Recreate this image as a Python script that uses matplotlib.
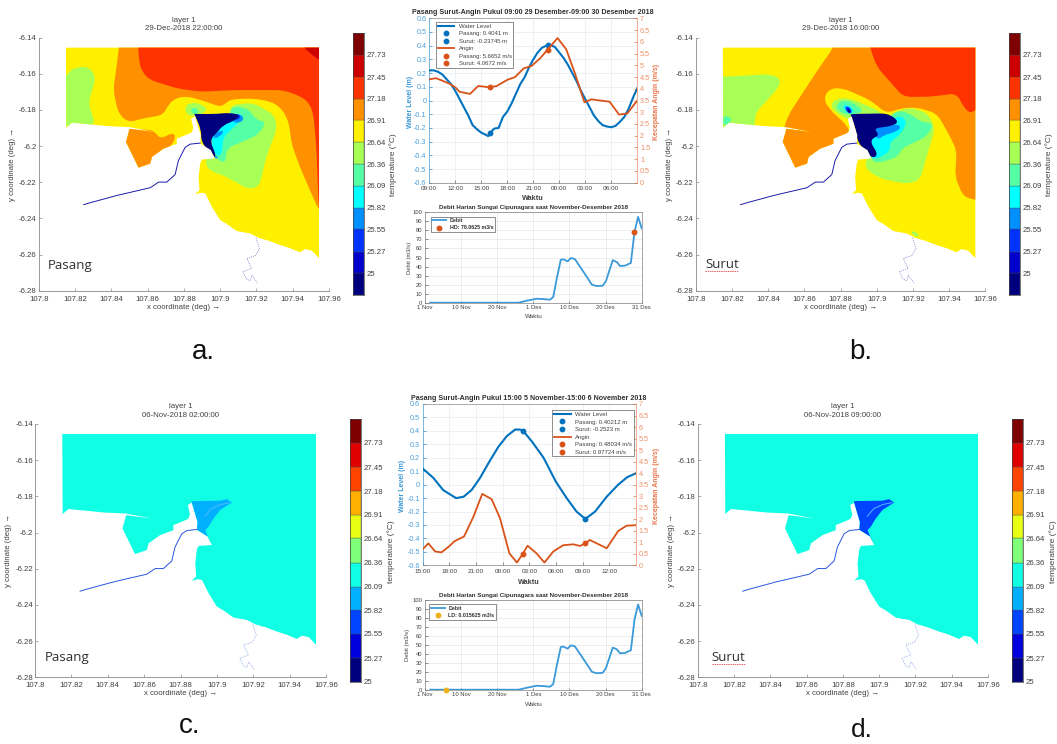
import matplotlib
matplotlib.use("Agg")
import matplotlib.pyplot as plt
from matplotlib.patches import Polygon, PathPatch
from matplotlib.path import Path
from matplotlib.lines import Line2D
import math

W, H = 1057, 744
plt.rcParams['font.family'] = ['Liberation Sans', 'DejaVu Sans']

# ---------- temperature scale ----------
temp_ticks = [25, 25.27, 25.55, 25.82, 26.09, 26.36, 26.64, 26.91, 27.18, 27.45, 27.73]
edges_12 = [24.73] + temp_ticks + [28.0]
edges_11 = temp_ticks + [28.0]
jet_12 = ['#00007f', '#0000cc', '#0033ff', '#0090ff', '#00ffff', '#55ffa5',
          '#a8ff55', '#fff000', '#ff9000', '#ff3300', '#cc0000', '#7f0000']
jet_11 = ['#00007f', '#0000dd', '#0044ff', '#00b0ff', '#10ffe4', '#80ff78',
          '#e8ff14', '#ffb000', '#ff4400', '#e00000', '#7f0000']

# ---------- geography ----------
sea = [(107.815, -6.1455), (107.9545, -6.1455), (107.9545, -6.262), (107.9505, -6.2578),
       (107.9468, -6.257), (107.944, -6.2588), (107.9386, -6.2565), (107.933, -6.2547),
       (107.9266, -6.2523), (107.9211, -6.2507), (107.9165, -6.2483), (107.9092, -6.247),
       (107.9037, -6.2431), (107.9, -6.2409), (107.8954, -6.2335), (107.8918, -6.2262),
       (107.8895, -6.2258), (107.8862, -6.2266), (107.8886, -6.2243), (107.8881, -6.217),
       (107.889, -6.2096), (107.8899, -6.2074), (107.8972, -6.2069), (107.8949, -6.2022),
       (107.889, -6.1985), (107.8893, -6.194), (107.8875, -6.188), (107.8862, -6.1835),
       (107.884, -6.1848), (107.8852, -6.19), (107.8844, -6.1922), (107.8831, -6.193),
       (107.8761, -6.1959), (107.8761, -6.1987), (107.8688, -6.2014), (107.8624, -6.206),
       (107.8615, -6.2097), (107.855, -6.2119), (107.8481, -6.1977), (107.8501, -6.1904),
       (107.8642, -6.1922), (107.8501, -6.1895), (107.8376, -6.1889), (107.8248, -6.1876),
       (107.8183, -6.187), (107.8152, -6.1898)]
river_west = [(107.8248, -6.2324), (107.8284, -6.2313), (107.8431, -6.2273), (107.8615, -6.223),
              (107.8661, -6.2199), (107.8706, -6.2199), (107.8752, -6.2157), (107.877, -6.208),
              (107.8807, -6.2007), (107.8835, -6.1989), (107.889, -6.1983)]
river_south = [(107.9198, -6.2508), (107.9217, -6.2567), (107.9195, -6.2605), (107.9147, -6.2622),
               (107.9174, -6.2677), (107.9125, -6.2695), (107.9145, -6.2735), (107.9165, -6.2745),
               (107.9175, -6.2715), (107.9205, -6.2755)]
bay = [(107.8862, -6.1826), (107.9018, -6.1824), (107.9055, -6.1815), (107.9083, -6.1834),
       (107.9018, -6.1876), (107.8982, -6.1922), (107.8954, -6.1968), (107.8936, -6.1987),
       (107.8972, -6.2069), (107.8949, -6.2022), (107.889, -6.1985), (107.8893, -6.194),
       (107.8862, -6.1839)]
channel = [(107.8935, -6.191), (107.897, -6.1868), (107.902, -6.1845), (107.907, -6.1835)]

# panel a contours (colour index in jet_12, outline)
a_bands = [
    (8, [(107.8442, -6.1431), (107.8442, -6.1455), (107.8429, -6.156), (107.8411, -6.169), (107.8439, -6.1819),
         (107.8494, -6.187), (107.8576, -6.1846), (107.8686, -6.1828), (107.8712, -6.1775), (107.875, -6.1736),
         (107.8815, -6.1723), (107.8925, -6.1754), (107.9007, -6.1786), (107.9053, -6.1741), (107.9182, -6.1736),
         (107.9275, -6.1752), (107.9328, -6.1782), (107.9365, -6.1835), (107.9383, -6.1893), (107.9393, -6.1985),
         (107.9439, -6.2114), (107.9543, -6.2354), (107.957, -6.2354), (107.957, -6.1431)]),
    (8, [(107.8466, -6.1902), (107.8635, -6.1911), (107.8668, -6.1962), (107.8745, -6.1921), (107.8754, -6.1967),
         (107.8583, -6.2151), (107.8466, -6.2151)]),
    (9, [(107.8549, -6.1431), (107.8549, -6.1455), (107.8554, -6.1542), (107.8575, -6.1595), (107.8613, -6.1634),
         (107.876, -6.168), (107.8888, -6.1699), (107.9072, -6.169), (107.9347, -6.169), (107.9445, -6.1725),
         (107.9493, -6.1763), (107.9515, -6.183), (107.953, -6.2003), (107.9543, -6.2335), (107.957, -6.2335),
         (107.957, -6.1431)]),
    (10, [(107.946, -6.1431), (107.946, -6.1455), (107.9543, -6.1524), (107.957, -6.1524), (107.957, -6.1431)]),
    (6, [(107.8136, -6.1616), (107.815, -6.1616), (107.8182, -6.157), (107.8273, -6.1557), (107.8316, -6.1616),
         (107.8273, -6.1763), (107.8314, -6.1883), (107.8136, -6.1893)]),
    (6, [(107.8806, -6.1782), (107.8834, -6.176), (107.889, -6.1763), (107.8936, -6.18), (107.8871, -6.1837),
         (107.8815, -6.1828)]),
    (5, [(107.8833, -6.18), (107.886, -6.1782), (107.8888, -6.1809), (107.8857, -6.1828)]),
    (6, [(107.9053, -6.1773), (107.9182, -6.176), (107.93, -6.1828), (107.9314, -6.1902), (107.9255, -6.2058),
         (107.9215, -6.2225), (107.9154, -6.2239), (107.9035, -6.2169), (107.8934, -6.2132), (107.8916, -6.2077),
         (107.8961, -6.2022), (107.9053, -6.1874)]),
    (5, [(107.9062, -6.1778), (107.9154, -6.1791), (107.92, -6.1856), (107.9255, -6.1865), (107.9209, -6.1939),
         (107.9035, -6.2012), (107.9031, -6.2095), (107.898, -6.2073), (107.8961, -6.1985), (107.9053, -6.1856)]),
    (4, [(107.9071, -6.1819), (107.9135, -6.1828), (107.9108, -6.1865), (107.9016, -6.1948), (107.9012, -6.204),
         (107.898, -6.2062), (107.8947, -6.1985), (107.8961, -6.1921)]),
    (3, [(107.9071, -6.1828), (107.9126, -6.1828), (107.9126, -6.1865), (107.9071, -6.1874)]),
    (3, [(107.898, -6.1921), (107.9025, -6.1912), (107.8998, -6.1948), (107.896, -6.196)]),
    (3, [(107.8961, -6.2052), (107.899, -6.2058), (107.898, -6.2073)]),
    (2, [(107.9071, -6.182), (107.9112, -6.1825), (107.911, -6.1848), (107.9075, -6.1858)]),
    (0, [(107.8857, -6.1822), (107.898, -6.1822), (107.9053, -6.1815), (107.9112, -6.1828), (107.9081, -6.1859),
         (107.9017, -6.1883), (107.898, -6.1929), (107.8943, -6.1966), (107.898, -6.2058), (107.8961, -6.2058),
         (107.8895, -6.1975), (107.8896, -6.191), (107.8857, -6.182)]),
]
# panel b contours
b_bands = [
    (8, [(107.876, -6.1431), (107.876, -6.1455), (107.8668, -6.1588), (107.8512, -6.1827), (107.8466, -6.1966),
         (107.854, -6.215), (107.8687, -6.2077), (107.8853, -6.1929), (107.8834, -6.1883), (107.8742, -6.18),
         (107.8705, -6.1736), (107.8742, -6.168), (107.8816, -6.168), (107.8963, -6.1745), (107.9055, -6.1819),
         (107.9129, -6.1791), (107.9221, -6.1785), (107.9331, -6.1819), (107.9386, -6.1911), (107.9442, -6.2022),
         (107.9433, -6.217), (107.9479, -6.228), (107.9547, -6.2298), (107.957, -6.2298), (107.957, -6.1431)]),
    (9, [(107.8963, -6.1431), (107.8963, -6.1455), (107.9, -6.156), (107.9147, -6.1727), (107.9294, -6.1727),
         (107.9442, -6.1708), (107.9479, -6.1782), (107.9515, -6.1819), (107.9543, -6.18), (107.957, -6.18),
         (107.957, -6.1431)]),
    (6, [(107.8134, -6.1616), (107.8149, -6.1616), (107.8411, -6.1602), (107.8466, -6.1625), (107.8462, -6.1671),
         (107.8328, -6.1819), (107.8328, -6.1902), (107.8134, -6.1902)]),
    (5, [(107.8149, -6.1833), (107.819, -6.1837), (107.8199, -6.1865), (107.8153, -6.1893)]),
    (6, [(107.8742, -6.1773), (107.8779, -6.1736), (107.8853, -6.1736), (107.8963, -6.1782), (107.9037, -6.1819),
         (107.8945, -6.1846), (107.8871, -6.1865), (107.8779, -6.1819)]),
    (5, [(107.877, -6.1782), (107.8806, -6.1745), (107.8862, -6.1754), (107.8935, -6.1809), (107.8853, -6.1828),
         (107.8806, -6.1819)]),
    (4, [(107.8806, -6.1782), (107.8834, -6.1768), (107.888, -6.1801), (107.8853, -6.1828)]),
    (2, [(107.882, -6.1785), (107.8845, -6.1778), (107.8866, -6.1808), (107.8848, -6.1825)]),
    (0, [(107.8835, -6.1795), (107.885, -6.1795), (107.8856, -6.1812), (107.8845, -6.1818)]),
    (6, [(107.9073, -6.1819), (107.9184, -6.1786), (107.9285, -6.1819), (107.9322, -6.1902), (107.9276, -6.2058),
         (107.9239, -6.2188), (107.9166, -6.221), (107.9018, -6.2179), (107.8935, -6.2123), (107.8945, -6.2068)]),
    (5, [(107.911, -6.18), (107.9184, -6.1819), (107.9239, -6.1865), (107.9318, -6.1874), (107.9276, -6.1948),
         (107.9138, -6.2012), (107.9119, -6.2058), (107.9009, -6.2095), (107.8963, -6.2073), (107.8981, -6.1966)]),
    (4, [(107.9129, -6.1828), (107.917, -6.1865), (107.9129, -6.1939), (107.9073, -6.1975), (107.9073, -6.203),
         (107.9, -6.2073), (107.8959, -6.2058), (107.8945, -6.1975), (107.9009, -6.1893)]),
    (3, [(107.8985, -6.1902), (107.9092, -6.1878), (107.9138, -6.1889), (107.911, -6.1921), (107.9037, -6.1939),
         (107.9009, -6.1966), (107.8972, -6.1921)]),
    (6, [(107.9184, -6.2483), (107.9212, -6.2464), (107.9243, -6.2511)]),
    (0, [(107.8861, -6.1822), (107.9064, -6.1819), (107.9125, -6.1865), (107.9083, -6.1889), (107.8981, -6.1902),
         (107.9018, -6.1939), (107.8959, -6.1966), (107.9009, -6.2049), (107.8972, -6.2068), (107.8893, -6.1975),
         (107.8882, -6.1893), (107.8853, -6.1828)]),
]

# ---------- tide and wind, 29-30 December ----------
dec_water_h = [0, .5, 1, 1.5, 2, 2.5, 3, 3.5, 4, 4.5, 5, 5.5, 6, 6.5, 6.8, 7, 7.5, 8, 8.5, 9, 9.5, 10, 10.5, 11, 11.5,
               12, 12.5, 13, 13.5, 14, 14.5, 15, 15.5, 16, 16.5, 17, 17.5, 18, 18.5, 19, 19.5, 20, 20.5, 21, 21.5,
               22, 22.5, 23, 23.5, 24]
dec_water = [.22, .22, .21, .19, .155, .12, .07, .01, -.05, -.11, -.18, -.21, -.235, -.25, -.26, -.237, -.205, -.2,
             -.12, -.08, -.02, .05, .12, .17, .24, .3, .35, .385, .4, .405, .39, .35, .31, .26, .2, .14, .07, .01,
             -.05, -.11, -.15, -.18, -.19, -.195, -.185, -.155, -.12, -.06, .02, .09]
dec_wind_h = [0, .77, 1.6, 2.4, 3, 3.5, 4.7, 5.65, 7, 7.8, 9, 9.9, 10.9, 11.8, 12.8, 13.65, 14.8, 15.8, 16.8, 17.9,
              18.7, 19.7, 20.8, 21.9, 22.85, 24]
dec_wind = [4.4, 4.45, 4.33, 4.2, 4.06, 3.87, 3.78, 4.12, 4.06, 4.12, 4.38, 4.5, 4.87, 4.97, 5.3, 5.67, 6.16, 5.68,
            4.66, 3.42, 3.55, 3.5, 3.45, 2.9, 2.95, 3.5]
dec_marks_h = [13.65, 7.0]
dec_marks_water = [0.4041, -0.23745]
dec_marks_wind = [5.6652, 4.0672]
dec_labels = ['09:00', '12:00', '15:00', '18:00', '21:00', '00:00', '03:00', '06:00']

# ---------- tide and wind, 5-6 November ----------
nov_water_h = [0, 1.2, 2.3, 3.75, 4.6, 5.5, 6.45, 7.4, 8.5, 9.45, 10.4, 10.95, 11.3, 12.3, 13.6, 15, 16.2, 17.3,
               18.3, 19.4, 20.7, 22, 23, 24]
nov_water = [.12, .05, -.04, -.1, -.09, -.04, .05, .16, .28, .36, .41, .41, .4, .32, .2, .02, -.1, -.2, -.255, -.2,
             -.09, 0, .055, .085]
nov_wind_h = [0, .64, 1.4, 2.1, 2.9, 3.6, 4.65, 5.7, 6.7, 7.76, 8.7, 9.75, 10.6, 11.25, 11.8, 12.8, 13.7, 14.7, 15.8,
              16.95, 17.7, 18.37, 18.8, 20.7, 22, 22.95, 24]
nov_wind = [.7, .95, .6, .56, .8, 1.05, 1.25, 2.1, 3.1, 2.87, 2.04, .52, .12, .49, .85, .52, .12, .6, .87, .91, .84,
            .97, 1.1, .74, 1.49, 1.72, 1.74]
nov_marks_h = [11.3, 18.3]
nov_marks_water = [0.40212, -0.2523]
nov_marks_wind = [0.48034, 0.97724]
nov_labels = ['15:00', '18:00', '21:00', '00:00', '03:00', '06:00', '09:00', '12:00']

# ---------- river discharge ----------
debit_day = [1.4, 25.9, 28.2, 30.9, 32.8, 34.6, 35.5, 36.5, 37.6, 38.3, 39.5, 40.4, 41.5, 43.9, 46.2, 47.5, 49.2,
             50.1, 52, 53.1, 54, 55.4, 57, 58, 59, 60]
debit = [0, 0, 2.2, 4.4, 4, 3.3, 6.3, 27, 47.6, 48, 45.8, 49.4, 48.3, 34, 20, 18.4, 18.8, 24, 47, 45, 40.6, 41, 44,
         78, 95, 82.3]
debit_ticks = [0, 10, 20, 30, 40, 50, 60]
debit_labels = ['1 Nov', '10 Nov', '20 Nov', '1 Des', '10 Des', '20 Des', '31 Des']
hd_day, hd_val = 58, 78.0625
ld_day, ld_val = 5.8, 0.015625

BLUE, ORANGE, YEL = '#0072BD', '#D95319', '#EDB120'
GREY = '#404040'

fig = plt.figure(figsize=(W / 100, H / 100), dpi=100, facecolor='white')


def rect(l, t, r, b):
    return [l / W, 1 - b / H, (r - l) / W, (b - t) / H]


def ftext(x, y, s, **kw):
    kw.setdefault('ha', 'center')
    kw.setdefault('va', 'center')
    kw.setdefault('color', GREY)
    return fig.text(x / W, 1 - y / H, s, **kw)


def rounded_path(pts, radius=0.004):
    """Closed path through the outline with its corners drawn as quadratic curves."""
    n = len(pts)
    verts, codes = [], []
    for i in range(n):
        p0, c, p1 = pts[i - 1], pts[i], pts[(i + 1) % n]
        d0 = math.hypot(c[0] - p0[0], c[1] - p0[1]) or 1e-9
        d1 = math.hypot(c[0] - p1[0], c[1] - p1[1]) or 1e-9
        r0, r1 = min(radius, d0 / 2), min(radius, d1 / 2)
        a = (c[0] + (p0[0] - c[0]) * r0 / d0, c[1] + (p0[1] - c[1]) * r0 / d0)
        b = (c[0] + (p1[0] - c[0]) * r1 / d1, c[1] + (p1[1] - c[1]) * r1 / d1)
        if i == 0:
            verts.append(a); codes.append(Path.MOVETO)
        else:
            verts.append(a); codes.append(Path.LINETO)
        verts += [c, b]; codes += [Path.CURVE3, Path.CURVE3]
    verts.append(verts[0]); codes.append(Path.CLOSEPOLY)
    return Path(verts, codes)


def draw_map(box, cbox, title, base, bands, palette, edges, baycol, river_col, label, label_xy, cb_label_x):
    ax = fig.add_axes(rect(*box))
    ax.set_xlim(107.8, 107.96)
    ax.set_ylim(-6.28, -6.14)
    clip = Polygon(sea, closed=True, transform=ax.transData)
    ax.add_patch(Polygon(sea, closed=True, fc=base, ec='none', zorder=1))
    for idx, pts in bands:
        p = PathPatch(rounded_path(pts), fc=palette[idx], ec='none', zorder=2)
        ax.add_patch(p)
        p.set_clip_path(clip)
    if baycol:
        p = Polygon(bay, closed=True, fc=baycol, ec='none', zorder=2)
        ax.add_patch(p)
        p.set_clip_path(clip)
        ax.plot(*zip(*channel), color='#55b8ff', lw=0.7, zorder=3)
    ax.plot(*zip(*river_west), color=river_col, lw=0.7, zorder=3)
    ax.plot(*zip(*river_south), color=river_col, lw=0.5, ls=(0, (1.5, 1.5)), alpha=.6, zorder=3)
    for s in ('top', 'right'):
        ax.spines[s].set_visible(False)
    for s in ('left', 'bottom'):
        ax.spines[s].set_color('#8a8a8a')
        ax.spines[s].set_linewidth(.6)
    ax.set_xticks([107.8, 107.82, 107.84, 107.86, 107.88, 107.9, 107.92, 107.94, 107.96])
    ax.set_xticklabels(['107.8', '107.82', '107.84', '107.86', '107.88', '107.9', '107.92', '107.94', '107.96'])
    ax.set_yticks([-6.28, -6.26, -6.24, -6.22, -6.2, -6.18, -6.16, -6.14])
    ax.set_yticklabels(['-6.28', '-6.26', '-6.24', '-6.22', '-6.2', '-6.18', '-6.16', '-6.14'])
    ax.tick_params(direction='in', length=2.5, width=.5, labelsize=5.6, color='#8a8a8a', labelcolor=GREY, pad=1.5)
    ax.tick_params(axis='x', pad=3.5)
    l, t, r, b = box
    ftext((l + r) / 2, t - 13, 'layer 1\n' + title, fontsize=5.6, linespacing=1.3)
    ftext((l + r) / 2, b + 16.5, 'x coordinate (deg) \u2192', fontsize=5.6)
    ftext(l - 26, (t + b) / 2, 'y coordinate (deg) \u2192', fontsize=5.6, rotation=90)
    ftext(label_xy[0], label_xy[1], label, fontsize=9.5, ha='left', family='Open Sans', color='#303030')
    # colour bar
    cax = fig.add_axes(rect(*cbox))
    for i, c in enumerate(palette):
        cax.bar(0.5, edges[i + 1] - edges[i], bottom=edges[i], width=1, color=c, edgecolor='#505050', linewidth=.25)
    cax.set_xlim(0, 1)
    cax.set_ylim(edges[0], edges[-1])
    cax.set_xticks([])
    cax.yaxis.tick_right()
    cax.set_yticks(temp_ticks)
    cax.set_yticklabels([f'{v:g}' for v in temp_ticks])
    cax.tick_params(length=0, labelsize=5.6, labelcolor=GREY, pad=2)
    for s in cax.spines.values():
        s.set_linewidth(.5)
        s.set_color('#404040')
    ftext(cb_label_x, (cbox[1] + cbox[3]) / 2 + 1, 'temperature (\u00b0C)', fontsize=6, rotation=90)


CYAN = jet_11[4]
draw_map((38.7, 37.7, 329, 290.7), (353, 33.3, 364, 294.7), '29-Dec-2018 22:00:00', jet_12[7], a_bands, jet_12,
         edges_12, None, '#1a1aa8', 'Pasang', (48, 265), 393)
draw_map((695.7, 37.7, 985.3, 290.7), (1009.3, 33.3, 1020.3, 294.7), '29-Dec-2018 16:00:00', jet_12[7], b_bands, jet_12,
         edges_12, None, '#1a1aa8', 'Surut', (705, 265), 1049)
draw_map((35, 424, 326, 677.3), (350, 419.3, 361, 682), '06-Nov-2018 02:00:00', CYAN, [], jet_11,
         edges_11, jet_11[3], '#2a55e0', 'Pasang', (45, 657.5), 391)
draw_map((697.7, 424, 988, 677.3), (1012, 419.3, 1023, 682), '06-Nov-2018 09:00:00', CYAN, [], jet_11,
         edges_11, jet_11[2], '#2a55e0', 'Surut', (711.5, 657.5), 1053)


def tide_panel(box, title, labels, wh, w, vh, v, mh, mw, mv, leg_labels, leg_xy, title_xy, wak_y, ylx, yrx):
    ax = fig.add_axes(rect(*box))
    ax2 = ax.twinx()
    ax.plot(wh, w, color=BLUE, lw=1.5, zorder=3)
    ax.plot(mh[0], mw[0], 'o', color=BLUE, ms=3.2, zorder=4)
    ax.plot(mh[1], mw[1], 'o', color=BLUE, ms=3.2, zorder=4)
    ax2.plot(vh, v, color=ORANGE, lw=1.3, zorder=3)
    ax2.plot(mh[0], mv[0], 'o', color=ORANGE, ms=3.2, zorder=4)
    ax2.plot(mh[1], mv[1], 'o', color=ORANGE, ms=3.2, zorder=4)
    ax.set_xlim(0, 24)
    ax.set_ylim(-0.6, 0.6)
    ax2.set_ylim(0, 7)
    ax.set_xticks(range(0, 24, 3))
    ax.set_xticklabels(labels)
    yt = [round(-0.6 + .1 * i, 1) for i in range(13)]
    ax.set_yticks(yt)
    ax.set_yticklabels([f'{t:g}' for t in yt])
    yt2 = [i * .5 for i in range(15)]
    ax2.set_yticks(yt2)
    ax2.set_yticklabels([f'{t:g}' for t in yt2])
    ax.grid(True, color='#e4ebf1', lw=.5)
    ax.tick_params(axis='x', direction='in', length=2, width=.4, labelsize=4.6, labelcolor=GREY, color=GREY, pad=2.5)
    ax.tick_params(axis='y', direction='in', length=2, width=.4, labelsize=5.2, labelcolor='#4b9fd8', color=BLUE, pad=2)
    ax2.tick_params(axis='y', direction='in', length=2, width=.4, labelsize=5.2, labelcolor='#ef8f66', color=ORANGE, pad=2)
    ax.spines['top'].set_color('#909090')
    ax2.spines['top'].set_visible(False)
    ax.spines['left'].set_color('#4b9fd8')
    ax.spines['bottom'].set_color('#808080')
    ax2.spines['left'].set_visible(False)
    ax2.spines['bottom'].set_visible(False)
    ax.spines['right'].set_visible(False)
    ax2.spines['right'].set_color('#ef8f66')
    for a in (ax, ax2):
        for s in a.spines.values():
            s.set_linewidth(.5)
    handles = [Line2D([], [], color=BLUE, lw=1.5),
               Line2D([], [], color=BLUE, marker='o', ms=3.2, ls='none'),
               Line2D([], [], color=BLUE, marker='o', ms=3.2, ls='none'),
               Line2D([], [], color=ORANGE, lw=1.3),
               Line2D([], [], color=ORANGE, marker='o', ms=3.2, ls='none'),
               Line2D([], [], color=ORANGE, marker='o', ms=3.2, ls='none')]
    leg = ax2.legend(handles, leg_labels, loc='upper left', bbox_to_anchor=(leg_xy[0] / W, 1 - leg_xy[1] / H),
                     bbox_transform=fig.transFigure, fontsize=4.35, fancybox=False, framealpha=1, edgecolor='#606060',
                     handlelength=2.8, labelspacing=.38, borderpad=.3, handletextpad=.7, borderaxespad=0)
    leg.get_frame().set_linewidth(.5)
    leg.set_zorder(10)
    for t in leg.get_texts():
        t.set_color(GREY)
    l, t, r, b = box
    ftext(title_xy[0], title_xy[1], title, fontsize=5.15, fontweight='bold', color='#303030')
    ftext((l + r) / 2, wak_y, 'Waktu', fontsize=5.2, fontweight='bold', color='#404040')
    ftext(ylx, (t + b) / 2 + 1, 'Water Level (m)', fontsize=5, fontweight='bold', rotation=90, color='#3d97d4')
    ftext(yrx, (t + b) / 2 + 1, 'Kecepatan Angin (m/s)', fontsize=5, fontweight='bold', rotation=90, color='#e8744a')


tide_panel((429.3, 18.3, 637.3, 182.7), 'Pasang Surut-Angin Pukul 09:00 29 Desember-09:00 30 Desember 2018', dec_labels,
           dec_water_h, dec_water, dec_wind_h, dec_wind, dec_marks_h, dec_marks_water, dec_marks_wind,
           ['Water Level', 'Pasang: 0.4041 m', 'Surut: -0.23745 m', 'Angin', 'Pasang: 5.6652 m/s', 'Surut: 4.0672 m/s'],
           (435.7, 21.7), (532.7, 13), 198, 410, 657)
tide_panel((422.7, 404, 636, 565.3), 'Pasang Surut-Angin Pukul 15:00 5 November-15:00 6 November 2018', nov_labels,
           nov_water_h, nov_water, nov_wind_h, nov_wind, nov_marks_h, nov_marks_water, nov_marks_wind,
           ['Water Level', 'Pasang: 0.40212 m', 'Surut: -0.2523 m', 'Angin', 'Pasang: 0.48034 m/s', 'Surut: 0.97724 m/s'],
           (552, 410), (528.7, 399), 583, 403, 656)


def debit_panel(box, mark_day, mark_val, mark_col, mark_label, title_y, wak_y, ylx, leg_xy):
    ax = fig.add_axes(rect(*box))
    ax.plot(debit_day, debit, color='#3a9ad9', lw=1.3, zorder=3)
    ax.plot([mark_day], [mark_val], 'o', color=mark_col, ms=3.2, zorder=4, clip_on=False)
    ax.set_xlim(0, 60)
    ax.set_ylim(0, 100)
    ax.set_xticks(debit_ticks)
    ax.set_xticklabels(debit_labels)
    ax.set_yticks(range(0, 101, 10))
    ax.grid(True, color='#e6e6e6', lw=.5)
    ax.tick_params(direction='in', length=1.8, width=.4, labelsize=4.2, labelcolor=GREY, color=GREY, pad=2)
    for s in ax.spines.values():
        s.set_linewidth(.5)
        s.set_color('#808080')
    handles = [Line2D([], [], color='#3a9ad9', lw=1.3),
               Line2D([], [], color=mark_col, marker='o', ms=3.2, ls='none')]
    leg = ax.legend(handles, ['Debit', mark_label], loc='upper left', bbox_to_anchor=(leg_xy[0] / W, 1 - leg_xy[1] / H),
                    bbox_transform=fig.transFigure, fancybox=False, framealpha=1, edgecolor='#606060',
                    handlelength=2.6, labelspacing=.4, borderpad=.35, handletextpad=.7, borderaxespad=0,
                    prop={'size': 3.8, 'weight': 'bold'})
    leg.get_frame().set_linewidth(.5)
    for t in leg.get_texts():
        t.set_color('#303030')
    l, t, r, b = box
    ftext((l + r) / 2, title_y, 'Debit Harian Sungai Cipunagara saat November-Desember 2018', fontsize=4.5,
          fontweight='bold', color='#303030')
    ftext((l + r) / 2, wak_y, 'Waktu', fontsize=4.6)
    ftext(ylx, (t + b) / 2, 'Debit (m3/s)', fontsize=4.2, rotation=90)


debit_panel((425, 212.3, 641.7, 302.7), hd_day, hd_val, ORANGE, 'HD: 78.0625 m3/s', 207, 317, 409, (430.5, 216.5))
debit_panel((425, 600, 641.7, 689.7), ld_day, ld_val, YEL, 'LD: 0.015625 m3/s', 595, 704, 408, (429, 604))

# ---------- panel letters and spell-check underlines ----------
ftext(203, 352, 'a.', fontsize=20, color='#111111')
ftext(861, 352, 'b.', fontsize=20, color='#111111')
ftext(190, 726, 'c.', fontsize=20, color='#111111')
ftext(862, 730, 'd.', fontsize=19, color='#111111')
fig.add_artist(Line2D([705 / W, 738 / W], [1 - 271 / H] * 2, color='#e86060', lw=.7, ls=(0, (1.5, .8))))
fig.add_artist(Line2D([712 / W, 745 / W], [1 - 663.5 / H] * 2, color='#e86060', lw=.7, ls=(0, (1.5, .8))))

fig.savefig('out.png', dpi=100)
